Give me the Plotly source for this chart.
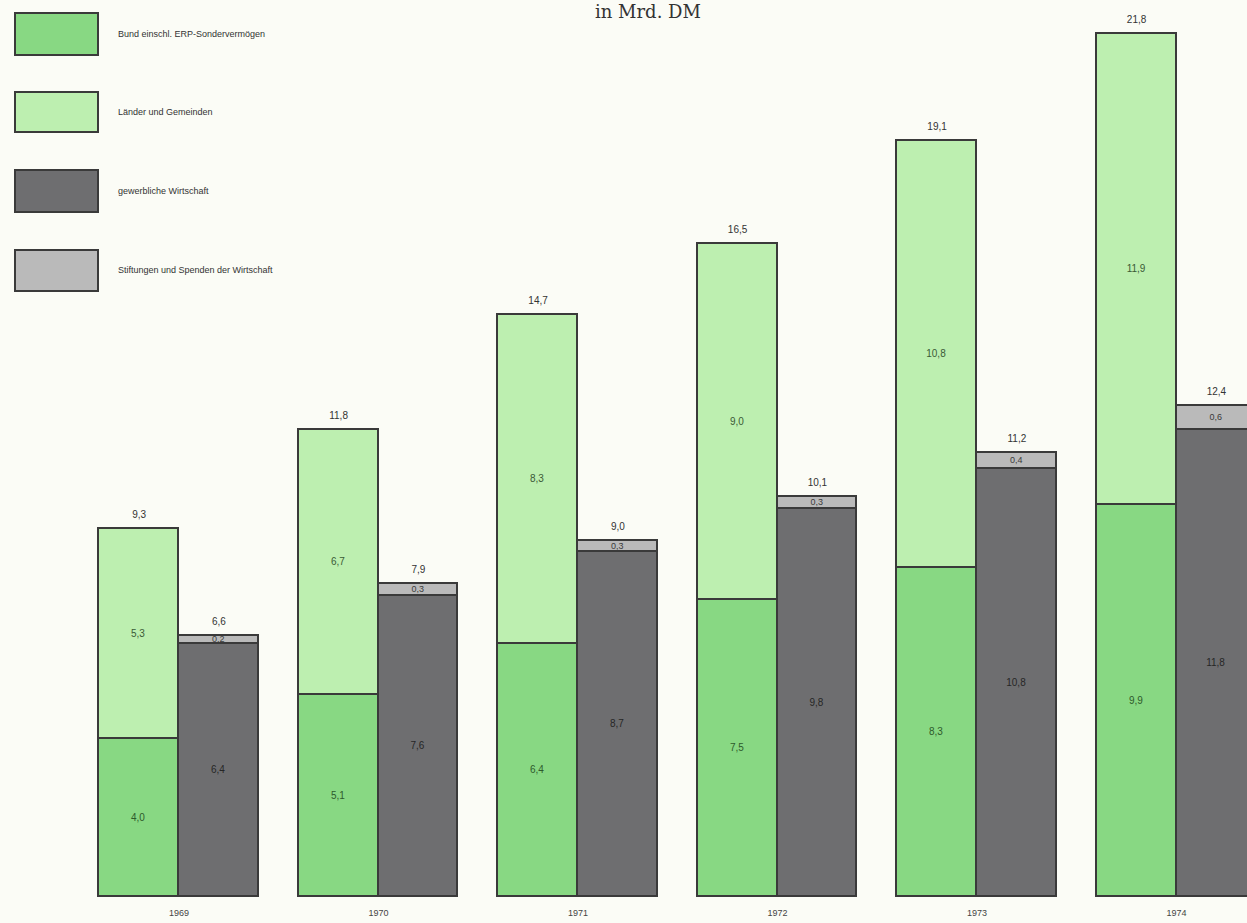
import plotly.graph_objects as go

# Ausgaben für Forschung und Entwicklung, in Mrd. DM
years = ["1969", "1970", "1971", "1972", "1973", "1974"]
bund = [4.0, 5.1, 6.4, 7.5, 8.3, 9.9]            # Bund einschl. ERP-Sondervermögen
laender = [5.3, 6.7, 8.3, 9.0, 10.8, 11.9]       # Länder und Gemeinden
wirtschaft = [6.4, 7.6, 8.7, 9.8, 10.8, 11.8]    # gewerbliche Wirtschaft
stiftungen = [0.2, 0.3, 0.3, 0.3, 0.4, 0.6]      # Stiftungen und Spenden der Wirtschaft

series_names = [
    "Bund einschl. ERP-Sondervermögen",
    "Länder und Gemeinden",
    "gewerbliche Wirtschaft",
    "Stiftungen und Spenden der Wirtschaft",
]

C_BUND = "#88d883"
C_LAENDER = "#bdefb0"
C_WIRT = "#6e6e70"
C_STIFT = "#bababa"
EDGE = "#3a3a3a"
BG = "#fbfcf6"
SANS = "Liberation Sans, Arial, sans-serif"

W, H = 1247, 923
MT, MB = 0, 26
plot_h = H - MT - MB

n = len(years)
idx = list(range(n))
x_public = [i - 0.2 for i in idx]
x_private = [i + 0.2 for i in idx]
total_public = [round(a + b, 1) for a, b in zip(bund, laender)]
total_private = [round(a + b, 1) for a, b in zip(wirtschaft, stiftungen)]

fig = go.Figure()


def add_bar(xs, ys, color, name, txtcolor, size=10):
    fig.add_trace(go.Bar(
        x=xs, y=ys, width=0.4, name=name,
        marker=dict(color=color, line=dict(color=EDGE, width=1.6)),
        texttemplate="%{y:.1f}", textposition="inside",
        insidetextanchor="middle", textangle=0, constraintext="none",
        insidetextfont=dict(family=SANS, size=size, color=txtcolor),
        showlegend=False, hoverinfo="skip",
    ))


add_bar(x_public, bund, C_BUND, series_names[0], "#2e5a2c")
add_bar(x_public, laender, C_LAENDER, series_names[1], "#3a5a36")
add_bar(x_private, wirtschaft, C_WIRT, series_names[2], "#262626")
add_bar(x_private, stiftungen, C_STIFT, series_names[3], "#3a3a3a", size=9)

# totals above each stacked column (invisible markers keep a small gap)
fig.add_trace(go.Scatter(
    x=x_public + x_private, y=total_public + total_private,
    mode="markers+text", texttemplate="%{y:.1f}", textposition="top center",
    marker=dict(size=12, color="rgba(0,0,0,0)"),
    textfont=dict(family=SANS, size=10, color="#333333"),
    showlegend=False, hoverinfo="skip",
))

# legend: large swatches with captions at the upper left
legend_colors = [C_BUND, C_LAENDER, C_WIRT, C_STIFT]
legend_rows = [(13, 55), (92, 132), (170, 212), (250, 291)]


def py(p):
    return (MT + plot_h - p) / plot_h


for (top, bot), col, label in zip(legend_rows, legend_colors, series_names):
    fig.add_shape(type="rect", xref="paper", yref="paper",
                  x0=15 / W, x1=98 / W, y0=py(bot), y1=py(top),
                  fillcolor=col, line=dict(color=EDGE, width=2))
    fig.add_annotation(xref="paper", yref="paper", x=116 / W, y=py((top + bot) / 2),
                       text=label, showarrow=False, xanchor="left", yanchor="middle",
                       font=dict(family=SANS, size=9, color="#333333"))

fig.add_annotation(xref="paper", yref="paper", x=648 / W, y=1, yshift=-24,
                   text="in Mrd. DM", showarrow=False, xanchor="center", yanchor="bottom",
                   font=dict(family="DejaVu Serif, serif", size=18, color="#333333"))

fig.update_layout(
    width=W, height=H,
    margin=dict(l=0, r=0, t=MT, b=MB, pad=0),
    paper_bgcolor=BG, plot_bgcolor=BG,
    barmode="stack", bargap=0,
    separators=",.",
    xaxis=dict(range=[-179 / 199.5, (W - 179) / 199.5], tickvals=idx, ticktext=years,
               showgrid=False, zeroline=False, showline=False, ticks="",
               tickfont=dict(family=SANS, size=9, color="#444444"),
               ticklabelstandoff=9),
    yaxis=dict(range=[0, plot_h / 39.6], visible=False, showgrid=False, zeroline=False),
)

fig.write_html("out.html")
